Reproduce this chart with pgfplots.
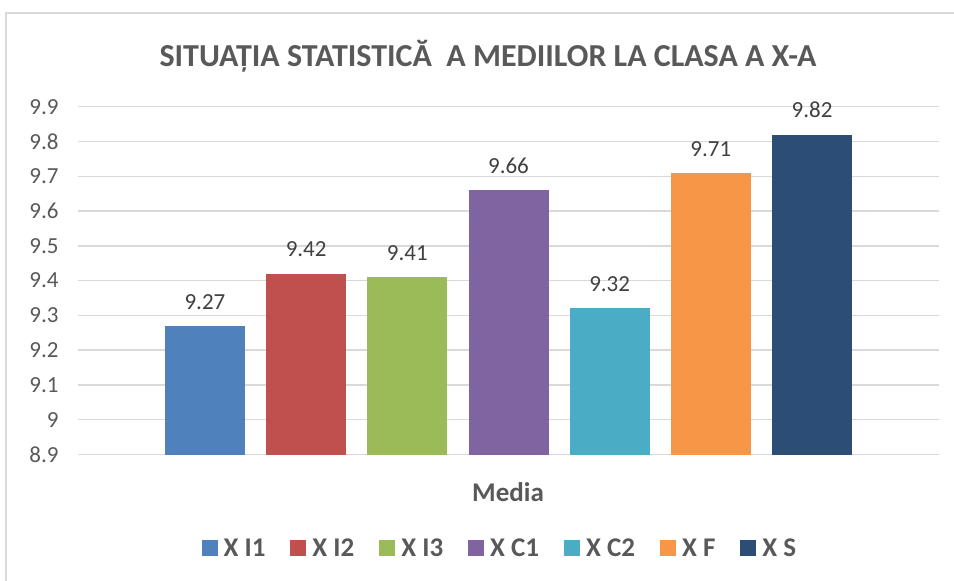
\documentclass[border=0pt]{standalone}
\usepackage{pgfplots}
\pgfplotsset{compat=1.18}
\usepackage{fontspec}
\setmainfont{Carlito}
\definecolor{c1}{HTML}{4F81BD}
\definecolor{c2}{HTML}{C0504D}
\definecolor{c3}{HTML}{9BBB59}
\definecolor{c4}{HTML}{8064A2}
\definecolor{c5}{HTML}{4BACC6}
\definecolor{c6}{HTML}{F79646}
\definecolor{c7}{HTML}{2C4D75}
\definecolor{txt}{HTML}{595959}
\definecolor{lbl}{HTML}{404040}
\definecolor{grd}{HTML}{D9D9D9}
\begin{document}
\begin{tikzpicture}
\path[use as bounding box] (0pt,0pt) rectangle (954pt,-581pt);
\draw[grd, line width=1.5pt] (6pt,-581pt) -- (6pt,-13pt) -- (954pt,-13pt);
\node[font=\bfseries\fontsize{32}{38}\selectfont, text=txt] at (488pt,-56pt) {SITUAȚIA STATISTICĂ\ \ A MEDIILOR LA CLASA A X-A};
\node[font=\bfseries\fontsize{27}{32}\selectfont, text=txt] at (508pt,-492pt) {Media};
\begin{axis}[
  at={(78pt,-454.5pt)}, anchor=south west,
  scale only axis, width=861pt, height=347.8pt,
  xmin=-1.255, xmax=7.255, ymin=8.9, ymax=9.9,
  ybar, bar width=80pt,
  every axis plot/.append style={bar shift=0pt, draw=none},
  xtick=\empty,
  ytick={8.9,9,9.1,9.2,9.3,9.4,9.5,9.6,9.7,9.8,9.9},
  yticklabels={8.9,9,9.1,9.2,9.3,9.4,9.5,9.6,9.7,9.8,9.9},
  ymajorgrids, grid style={grd, line width=1.5pt},
  axis line style={draw=none},
  major tick length=0pt,
  yticklabel style={font=\fontsize{23}{27}\selectfont, text=txt, xshift=-16pt},
  /pgf/number format/assume math mode=true,
  nodes near coords,
  nodes near coords style={font=\fontsize{23}{27}\selectfont, text=lbl, yshift=13pt,
     /pgf/number format/.cd, fixed, fixed zerofill, precision=2, assume math mode=true},
  legend style={draw=none, fill=none, legend columns=-1, at={(0.490,-0.269)}, anchor=center,
     font=\bfseries\fontsize{27}{32}\selectfont, text=txt,
     /tikz/every even column/.append style={column sep=23pt},
     /tikz/every odd column/.append style={column sep=4pt}},
  legend image code/.code={\fill[#1] (0pt,-8pt) rectangle (16pt,8pt);},
  clip=false,
]
\addplot[fill=c1] coordinates {(0,9.27)};
\addplot[fill=c2] coordinates {(1,9.42)};
\addplot[fill=c3] coordinates {(2,9.41)};
\addplot[fill=c4] coordinates {(3,9.66)};
\addplot[fill=c5] coordinates {(4,9.32)};
\addplot[fill=c6] coordinates {(5,9.71)};
\addplot[fill=c7] coordinates {(6,9.82)};
\legend{X I1, X I2, X I3, X C1, X C2, X F, X S}
\end{axis}
\end{tikzpicture}
\end{document}
